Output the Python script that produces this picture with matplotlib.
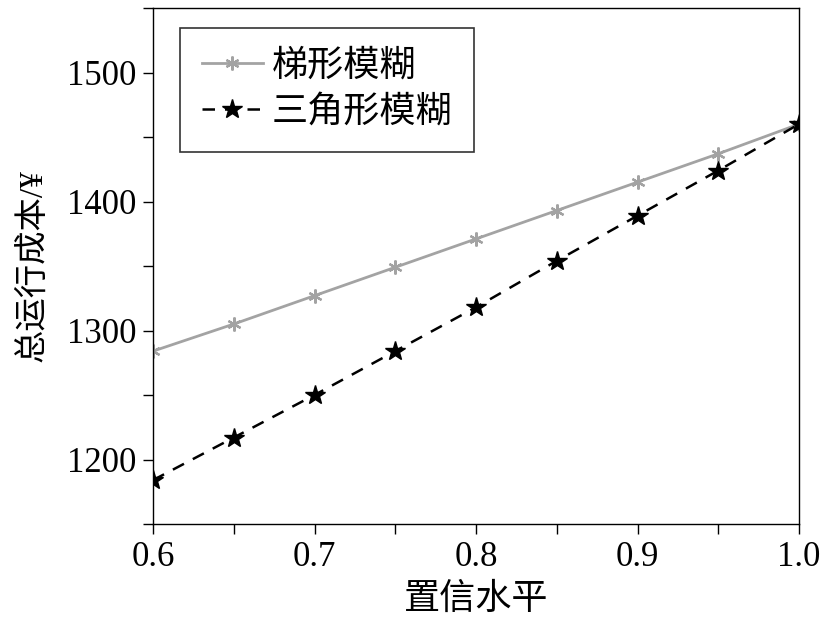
import matplotlib
matplotlib.use("Agg")
import matplotlib.pyplot as plt
from matplotlib.ticker import MultipleLocator, FormatStrFormatter

plt.rcParams['font.family'] = ['Liberation Serif', 'Noto Sans CJK SC']

confidence = [0.6, 0.65, 0.7, 0.75, 0.8, 0.85, 0.9, 0.95, 1.0]
trapezoid = [1284, 1305, 1327, 1349, 1371, 1393, 1415, 1437, 1460]
triangle = [1184, 1217, 1250, 1284, 1318, 1354, 1389, 1424, 1460]
labels = ['梯形模糊', '三角形模糊']

fig = plt.figure(figsize=(8.23, 6.2), dpi=100)
ax = fig.add_axes([153/823, 1-524/620, (799-153)/823, (524-8)/620])

ax.plot(confidence, trapezoid, color='#a3a3a3', linestyle='-', linewidth=2,
        marker=(6, 2, 0), markersize=10, markeredgewidth=1.6, markeredgecolor='#a3a3a3', label=labels[0])
ax.plot(confidence, triangle, color='black', linestyle=(0, (5, 4)), linewidth=1.8,
        marker='*', markersize=15, markerfacecolor='black', markeredgecolor='black', label=labels[1])

ax.set_xlim(0.6, 1.0)
ax.set_ylim(1150, 1550)
ax.xaxis.set_major_locator(MultipleLocator(0.1))
ax.xaxis.set_minor_locator(MultipleLocator(0.05))
ax.yaxis.set_major_locator(MultipleLocator(100))
ax.yaxis.set_minor_locator(MultipleLocator(50))
ax.tick_params(axis='both', which='major', direction='out', length=7, width=1, labelsize=25, pad=5)
ax.tick_params(axis='both', which='minor', direction='out', length=7, width=1)
ax.xaxis.set_major_formatter(FormatStrFormatter('%.1f'))

for s in ax.spines.values():
    s.set_linewidth(1)

ax.set_xlabel('置信水平', fontsize=26, labelpad=7)
ax.set_ylabel('总运行成本/¥', fontsize=24, labelpad=13)

leg = ax.legend(loc='upper left', fontsize=26, frameon=True, fancybox=False,
                edgecolor='black', borderpad=0.6, handlelength=1.7, handletextpad=0.25,
                labelspacing=0.35, borderaxespad=0, bbox_to_anchor=(27/646, 1-20/516))
leg.get_frame().set_linewidth(1.2)

fig.savefig('out.png', dpi=100, facecolor='white')
